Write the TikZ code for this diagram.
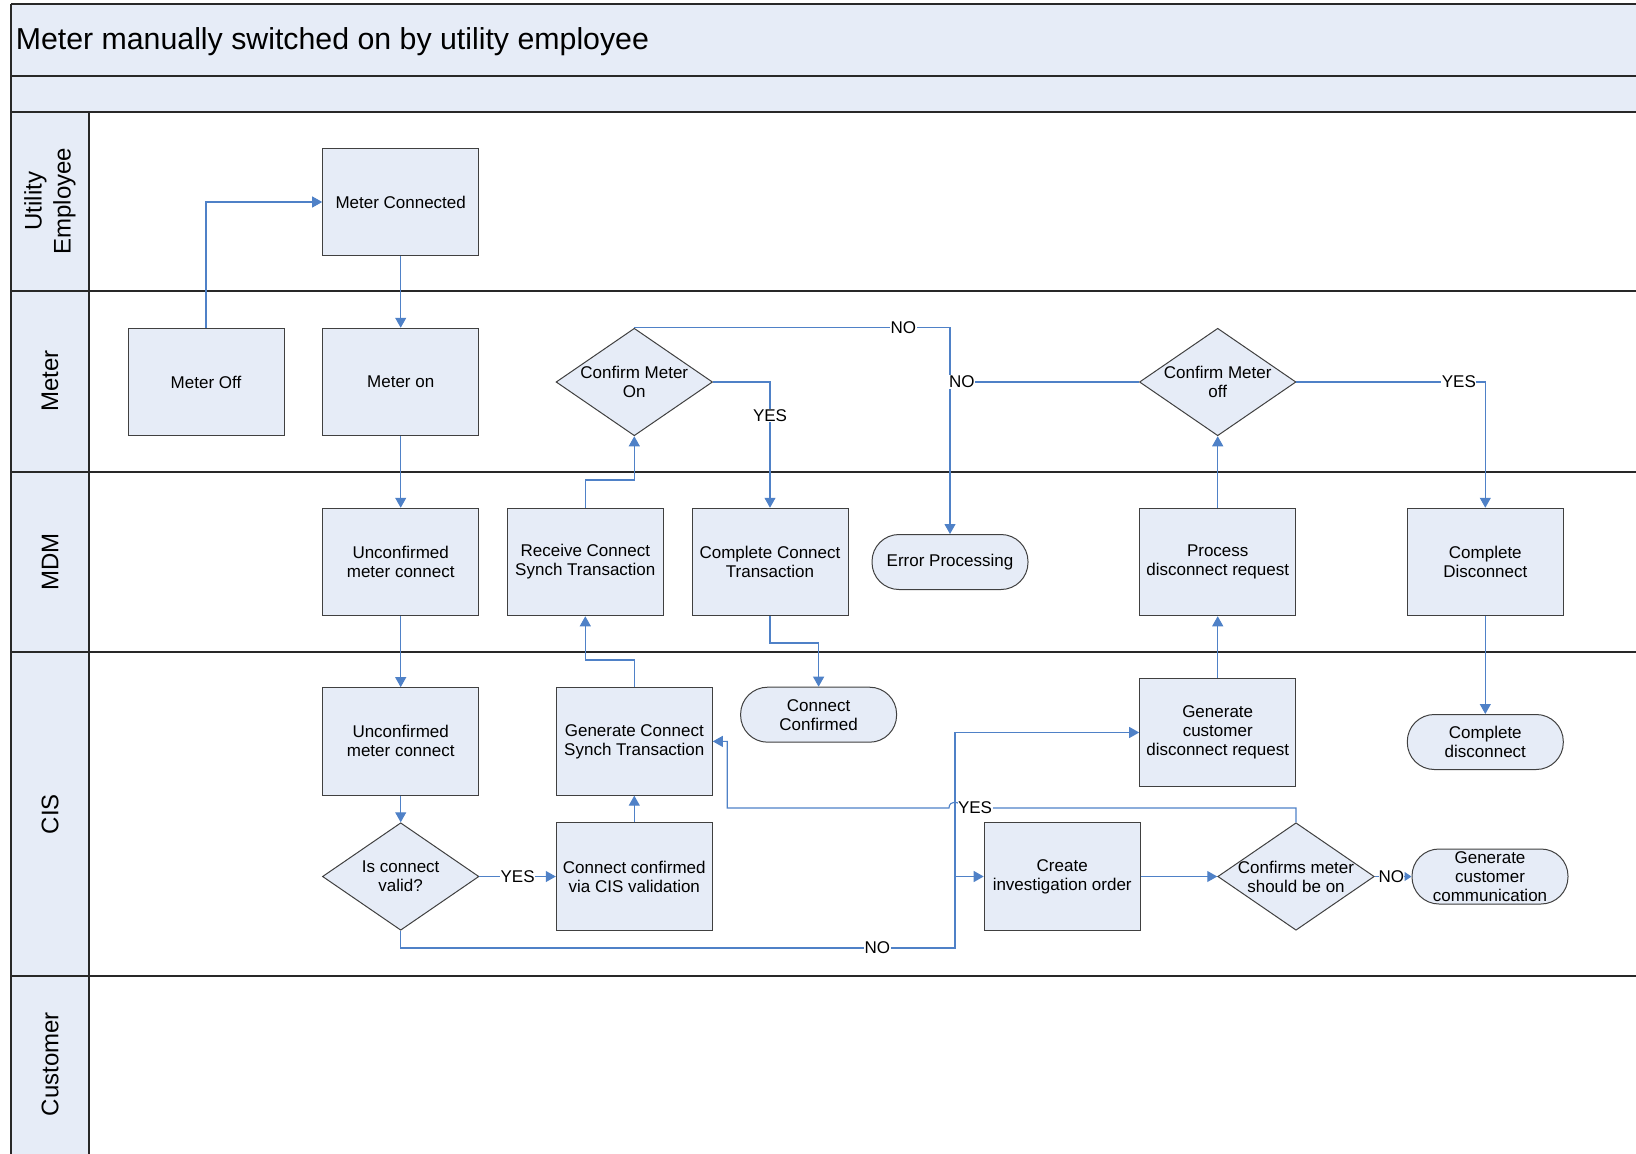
\documentclass[tikz,border=0pt]{standalone}
\usepackage{fontspec}
\setmainfont{Liberation Sans}
\usetikzlibrary{shapes.geometric,arrows.meta}
\definecolor{lanefill}{RGB}{230,236,247}
\definecolor{flowblue}{RGB}{79,129,199}
\definecolor{boxline}{RGB}{64,64,64}
\definecolor{laneline}{RGB}{40,40,40}
\newcommand\flowtextfont{\fontsize{17}{19}\selectfont}
\newcommand\lanetextfont{\fontsize{24}{29}\selectfont}
\newcommand\titletextfont{\fontsize{30.3}{34}\selectfont}

\begin{document}
\begin{tikzpicture}[x=1pt,y=-1pt,
  stepbox/.style={rectangle,draw=boxline,fill=lanefill,line width=1pt,
    minimum width=156pt,minimum height=107.5pt,align=center,
    font=\flowtextfont,inner sep=1pt},
  termbox/.style={stepbox,rounded corners=27pt,minimum height=55pt},
  decision/.style={diamond,draw=boxline,fill=lanefill,line width=1pt,
    minimum width=156.5pt,minimum height=107.5pt,inner sep=0pt},
  dtext/.style={align=center,font=\flowtextfont,inner sep=0pt},
  lanename/.style={rotate=90,align=center,font=\lanetextfont,inner sep=0pt},
  flowline/.style={draw=flowblue,line width=1.1pt},
  flow/.style={flowline,-{Triangle[length=10pt,width=11pt]}},
  lab/.style={fill=white,inner sep=0.5pt,font=\flowtextfont},
]
\useasboundingbox (0,0) rectangle (1636,1154);

% ---- pool, header bands and lanes ----
\fill[lanefill] (11,4) rectangle (1640,112);
\fill[lanefill] (11,112) rectangle (89,1160);
\begin{scope}[draw=laneline,line width=1.6pt]
  \draw (11,4) -- (1640,4);
  \draw (11,76) -- (1640,76);
  \draw (11,112) -- (1640,112);
  \draw (11,291) -- (1640,291);
  \draw (11,472) -- (1640,472);
  \draw (11,652) -- (1640,652);
  \draw (11,976) -- (1640,976);
  \draw (11,4) -- (11,1160);
  \draw (89,112) -- (89,1160);
\end{scope}

\node[anchor=base west,inner sep=0pt,font=\titletextfont] (title) at (15.6,49)
  {Meter manually switched on by utility employee};

\node[lanename] (lane-ue) at (50,201) {Utility\\Employee};
\node[lanename] (lane-meter) at (50,381) {Meter};
\node[lanename] (lane-mdm) at (50,562) {MDM};
\node[lanename] (lane-cis) at (50,814) {CIS};
\node[lanename] (lane-cust) at (50,1064) {Customer};

% ---- Utility employee ----
\node[stepbox] (MC) at (400.7,202) {Meter Connected};

% ---- Meter ----
\node[stepbox] (MOff) at (206,382) {Meter Off};
\node[stepbox] (MOn) at (400.7,382) {Meter on};
\node[decision] (CMOn) at (634.3,382) {};
\node[dtext] (CMOn-t) at (CMOn) {Confirm Meter\\On};
\node[decision] (CMOff) at (1217.7,382) {};
\node[dtext] (CMOff-t) at (CMOff) {Confirm Meter\\off};

% ---- MDM ----
\node[stepbox] (UMC1) at (400.7,562) {Unconfirmed\\meter connect};
\node[stepbox] (RCS) at (585.3,562) {Receive Connect\\Synch Transaction};
\node[stepbox] (CCT) at (770,562) {Complete Connect\\Transaction};
\node[termbox] (EP) at (950,562) {Error Processing};
\node[stepbox] (PDR) at (1217.7,562) {Process\\disconnect request};
\node[stepbox] (CD) at (1485.3,562) {Complete\\Disconnect};

% ---- CIS ----
\node[stepbox] (UMC2) at (400.7,741.4) {Unconfirmed\\meter connect};
\node[stepbox] (GCS) at (634.3,741.4) {Generate Connect\\Synch Transaction};
\node[termbox] (CC) at (818.6,714.7) {Connect\\Confirmed};
\node[stepbox,minimum height=108.5pt] (GCDR) at (1217.7,732.5) {Generate\\customer\\disconnect request};
\node[termbox] (CDt) at (1485.3,742) {Complete\\disconnect};
\node[decision] (ICV) at (400.7,876.5) {};
\node[dtext] (ICV-t) at (ICV) {Is connect\\valid?};
\node[stepbox] (CCV) at (634.3,876.5) {Connect confirmed\\via CIS validation};
\node[stepbox] (CIO) at (1062.2,876.5) {Create\\investigation order};
\node[decision] (CMSB) at (1296,876.5) {};
\node[dtext] (CMSB-t) at (CMSB) {Confirms meter\\should be on};
\node[termbox] (GCC) at (1490,876.5) {Generate\\customer\\communication};

% ---- bend points ----
\coordinate (b8) at (585.3,660);
\coordinate (b9) at (634.3,480);
\coordinate (b11) at (818.6,643);
\coordinate (b12) at (950,382);
\coordinate (b17) at (955,948);
\coordinate (b17j) at (955,876.5);
\coordinate (b20a) at (961,808);
\coordinate (b20b) at (949,808);
\coordinate (b20c) at (727.2,808);

% ---- connectors ----
\draw[flow] (MOff.north) |- (MC.west);
\draw[flow] (MC.south) -- (MOn.north);
\draw[flow] (MOn.south) -- (UMC1.north);
\draw[flow] (UMC1.south) -- (UMC2.north);
\draw[flow] (UMC2.south) -- (ICV.north);
\draw[flow] (ICV.east) -- node[lab]{YES} (CCV.west);
\draw[flow] (CCV.north) -- (GCS.south);
\draw[flow] (GCS.north) |- (b8) -- (RCS.south);
\draw[flow] (RCS.north) |- (b9) -- (CMOn.south);
\draw[flow] (CMOn.east) -| node[lab,pos=0.635]{YES} (CCT.north);
\draw[flow] (CCT.south) |- (b11) -- (CC.north);
\draw[flow] (CMOn.north) -| node[lab,pos=0.426]{NO} (EP.north);
\draw[flowline] (CMOff.west) -- node[lab,pos=0.937]{NO} (b12);
\draw[flow] (PDR.north) -- (CMOff.south);
\draw[flow] (GCDR.north) -- (PDR.south);
\draw[flow] (CMOff.east) -| node[lab,pos=0.43]{YES} (CD.north);
\draw[flow] (CD.south) -- (CDt.north);
\draw[flow] (ICV.south) |- node[lab,pos=0.93]{NO} (b17) |- (GCDR.west);
\draw[flow] (b17j) -- (CIO.west);
\draw[flow] (CIO.east) -- (CMSB.west);
\draw[flowline,-{Triangle[length=7pt,width=9pt]}] (CMSB.east) -- node[lab,pos=0.45,inner sep=0pt]{NO} (GCC.west);
\draw[flow] (CMSB.north) |- node[lab,pos=0.979]{YES} (b20a)
  .. controls +(0,-8) and +(0,-8) .. (b20b) -- (b20c) |- (GCS.east);
\end{tikzpicture}
\end{document}
